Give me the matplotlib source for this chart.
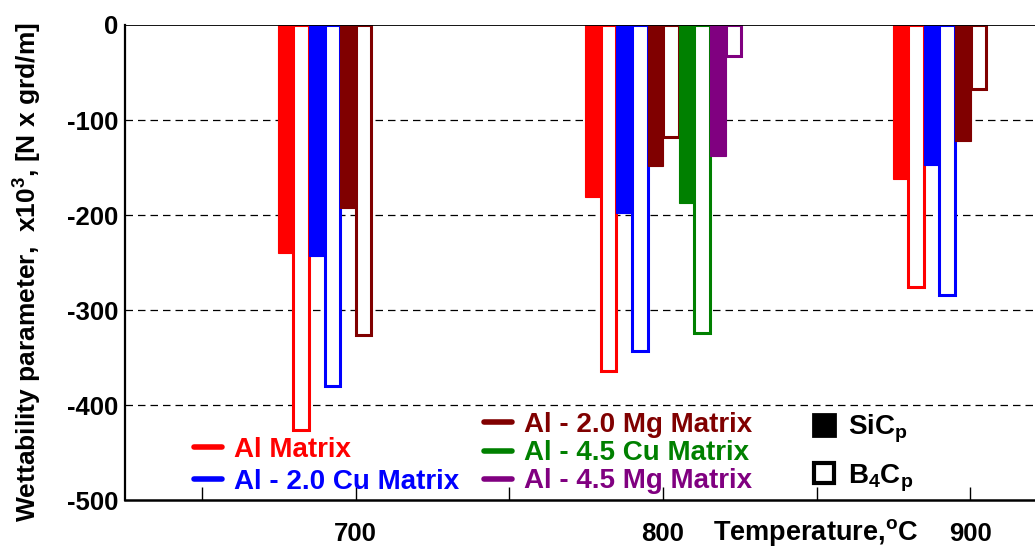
import numpy as np
import matplotlib.pyplot as plt
from matplotlib.lines import Line2D

plt.rcParams['font.family'] = ['Liberation Sans', 'DejaVu Sans']
plt.rcParams['font.weight'] = 'bold'
plt.rcParams['mathtext.fontset'] = 'custom'
plt.rcParams['mathtext.rm'] = 'Liberation Sans:bold'
plt.rcParams['mathtext.bf'] = 'Liberation Sans:bold'
plt.rcParams['axes.unicode_minus'] = False

# temperatures in degC
temps = [700, 800, 900]

alloys = ['Al Matrix', 'Al - 2.0 Cu Matrix', 'Al - 2.0 Mg Matrix',
          'Al - 4.5 Cu Matrix', 'Al - 4.5 Mg Matrix']
colors = ['#ff0000', '#0000ff', '#800000', '#008000', '#800080']

# wettability parameter x10^3 [N x grd/m], SiCp / B4Cp per alloy
sic_al = [-240, -181, -162]
b4c_al = [-426, -364, -276]
sic_cu2 = [-243, -198, -147]
b4c_cu2 = [-380, -343, -284]
sic_mg2 = [-193, -148, -122]
b4c_mg2 = [-326, -118, -67]
sic_cu45 = [None, -187, None]
b4c_cu45 = [None, -324, None]
sic_mg45 = [None, -138, None]
b4c_mg45 = [None, -33, None]

sic_all = [sic_al, sic_cu2, sic_mg2, sic_cu45, sic_mg45]
b4c_all = [b4c_al, b4c_cu2, b4c_mg2, b4c_cu45, b4c_mg45]

BAR_W = 5.07
GROUP_OFFSET = -25.3

fig = plt.figure(figsize=(10.35, 5.47), dpi=100)
ax = fig.add_axes([0.1208, 0.0859, 0.8792, 0.8684])

for j, t in enumerate(temps):
    k = 0
    for i in range(len(alloys)):
        if sic_all[i][j] is None:
            continue
        x0 = t + GROUP_OFFSET + k * BAR_W
        ax.bar(x0, sic_all[i][j], BAR_W, align='edge', color=colors[i],
               edgecolor=colors[i], linewidth=0.8, zorder=3)
        ax.bar(x0 + BAR_W, b4c_all[i][j], BAR_W, align='edge', color='white',
               edgecolor=colors[i], linewidth=2.2, zorder=3)
        k += 2

ax.set_xlim(625, 921)
ax.set_ylim(-500, 0)
ax.set_yticks(np.arange(-500, 1, 100))
ax.set_xticks([650, 700, 750, 800, 850, 900])
ax.set_xticklabels(['', '700', '', '800', '', '900'])
ax.tick_params(axis='x', direction='in', length=9.5, width=1, pad=16, labelsize=18.5)
ax.tick_params(axis='y', length=0, pad=5, labelsize=18.5)

for yv in [-100, -200, -300, -400]:
    ax.axhline(yv, color='black', lw=0.9, linestyle=(0, (6, 4)), zorder=1)
ax.axhline(0, color='black', lw=1.3, zorder=4)

ax.spines['top'].set_visible(False)
ax.spines['right'].set_visible(False)
ax.spines['left'].set_linewidth(1.6)
ax.spines['bottom'].set_linewidth(1.8)

ax.set_xlabel(r'Temperature,$^{\mathbf{o}}$C', fontsize=19.5, fontweight='bold')
ax.xaxis.set_label_coords(0.759, -0.0674)
ax.xaxis.label.set_va('center')
ax.set_ylabel(r'Wettability parameter,  x10$^{\mathbf{3}}$, [N x grd/m]',
              fontsize=19, fontweight='bold')
ax.yaxis.set_label_coords(-0.1077, 0.48)
ax.yaxis.label.set_va('center')

# legends
def line_handle(c):
    return Line2D([], [], color=c, lw=4, solid_capstyle='round')

leg1 = ax.legend([line_handle(c) for c in colors[:2]], alloys[:2],
                 loc='upper left', bbox_to_anchor=(0.1874, 0.201),
                 bbox_transform=fig.transFigure, frameon=False, fontsize=20,
                 handlelength=1.0, handletextpad=0.45, labelspacing=0.2,
                 borderpad=0, borderaxespad=0, labelcolor=colors[:2])
ax.add_artist(leg1)
leg2 = ax.legend([line_handle(c) for c in colors[2:]], alloys[2:],
                 loc='upper left', bbox_to_anchor=(0.4676, 0.2467),
                 bbox_transform=fig.transFigure, frameon=False, fontsize=20,
                 handlelength=1.0, handletextpad=0.45, labelspacing=0.08,
                 borderpad=0, borderaxespad=0, labelcolor=colors[2:])
ax.add_artist(leg2)
reinf = [Line2D([], [], ls='none', marker='s', ms=16, mfc='black', mec='black', mew=2),
         Line2D([], [], ls='none', marker='s', ms=15, mfc='white', mec='black', mew=3)]
ax.legend(reinf, [r'SiC$_{\mathbf{p}}$', r'B$_{\mathbf{4}}$C$_{\mathbf{p}}$'],
          loc='upper left', bbox_to_anchor=(0.783, 0.2460),
          bbox_transform=fig.transFigure, frameon=False, fontsize=20,
          handlelength=0.95, handletextpad=0.4, labelspacing=0.62,
          borderpad=0, borderaxespad=0)

fig.savefig('out.png', dpi=100)
